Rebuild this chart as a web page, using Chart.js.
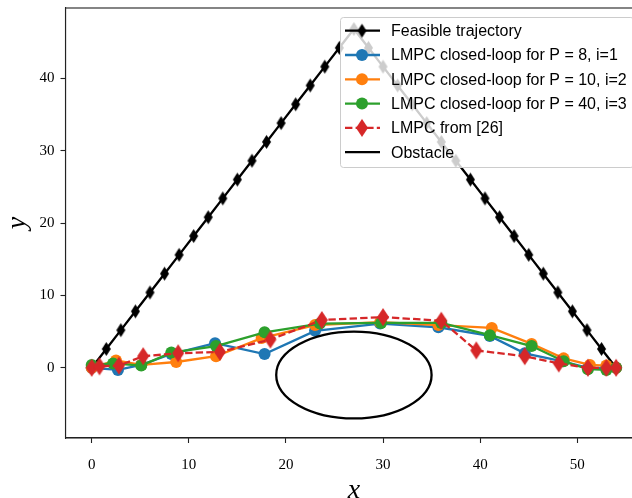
<!DOCTYPE html>
<html>
<head>
<meta charset="utf-8">
<script src="https://cdn.jsdelivr.net/npm/chart.js@4.4.0/dist/chart.umd.min.js"></script>
<style>
html, body { margin: 0; padding: 0; background: #fff; overflow: hidden; width: 632px; height: 498px; }
#wrap { position: relative; width: 660px; height: 498px; }
</style>
</head>
<body>
<div id="wrap"><canvas id="c" width="660" height="498"></canvas></div>
<script>
// feasible trajectory
var feasX = [0, 1.5, 3, 4.5, 6, 7.5, 9, 10.5, 12, 13.5, 15, 16.5, 18, 19.5, 21, 22.5, 24, 25.5, 27,
  28.5, 30, 31.5, 33, 34.5, 36, 37.5, 39, 40.5, 42, 43.5, 45, 46.5, 48, 49.5, 51, 52.5, 54]
var feasY = [0, 2.6, 5.2, 7.8, 10.4, 13, 15.6, 18.2, 20.8, 23.4, 26, 28.6, 31.2, 33.8, 36.4, 39, 41.6, 44.2, 46.8,
  44.2, 41.6, 39, 36.4, 33.8, 31.2, 28.6, 26, 23.4, 20.8, 18.2, 15.6, 13, 10.4, 7.8, 5.2, 2.6, 0]

// LMPC closed loop, P = 8, i=1
var p8X = [0, 2.7, 5.1, 8.2, 12.7, 17.8, 23.0, 29.7, 35.7, 41.0, 44.6, 48.5, 51.1, 53.0, 54.0]
var p8Y = [0, -0.3, 0.4, 1.9, 3.4, 1.9, 5.1, 6.1, 5.6, 4.4, 2.0, 0.9, 0.0, 0.0, 0.0]
// P = 10, i=2
var p10X = [0, 2.5, 5.1, 8.7, 12.8, 17.5, 23.0, 29.7, 35.7, 41.2, 45.3, 48.6, 51.3, 53.0, 54.0]
var p10Y = [0, 1.0, 0.4, 0.8, 1.6, 4.1, 5.9, 6.3, 5.9, 5.5, 3.3, 1.3, 0.4, 0.3, 0.0]
// P = 40, i=3
var p40X = [0, 2.2, 5.1, 8.2, 12.8, 17.8, 23.5, 29.8, 36.0, 41.0, 45.3, 48.6, 51.1, 53.0, 54.0]
var p40Y = [0.4, 0.6, 0.3, 2.1, 3.0, 4.9, 6.1, 6.2, 6.2, 4.5, 3.0, 0.9, -0.2, -0.3, 0.0]
// LMPC from [26]
var refX = [0, 0.8, 2.8, 5.3, 8.9, 13.2, 18.4, 23.7, 30.0, 36.0, 39.6, 44.6, 48.1, 51.1, 53.0, 54.0]
var refY = [0, 0.2, 0.3, 1.6, 2.0, 2.2, 3.9, 6.6, 7.0, 6.5, 2.4, 1.6, 0.6, 0.0, 0.0, 0.0]

// obstacle ellipse: center and half axes
var obsCenter = [27, -1]
var obsRadii = [8, 6]

var xTicks = [0, 10, 20, 30, 40, 50]
var yTicks = [0, 10, 20, 30, 40]
var xRange = [-2.7, 56.7]
var yRange = [-9.7, 49.7]

var labels = ["Feasible trajectory", "LMPC closed-loop for P = 8, i=1", "LMPC closed-loop for P = 10, i=2",
  "LMPC closed-loop for P = 40, i=3", "LMPC from [26]", "Obstacle"]

function pts(xs, ys) { return xs.map((v, i) => ({x: v, y: ys[i]})) }

function diamond(w, h, color) {
  var c = document.createElement("canvas")
  c.width = w + 2; c.height = h + 2
  var g = c.getContext("2d")
  g.fillStyle = color
  g.beginPath()
  g.moveTo(c.width / 2, 1); g.lineTo(w + 1, c.height / 2)
  g.lineTo(c.width / 2, h + 1); g.lineTo(1, c.height / 2)
  g.closePath(); g.fill()
  return c
}
var blackDia = diamond(9, 14, "#000")
var redDia = diamond(12, 18, "#d62728")

var serif = "'Liberation Serif', 'DejaVu Serif', serif"
var sans = "'Liberation Sans', Arial, sans-serif"

function lineSet(i, xs, ys, color, style, extra) {
  return Object.assign({
    label: labels[i], data: pts(xs, ys), borderColor: color, backgroundColor: color,
    borderWidth: 2.3, pointStyle: style, pointRadius: 6, pointBorderWidth: 0,
    pointHoverRadius: 6, tension: 0, order: 6 - i
  }, extra || {})
}

var datasets = [
  lineSet(0, feasX, feasY, "#000", blackDia),
  lineSet(1, p8X, p8Y, "#1f77b4", "circle"),
  lineSet(2, p10X, p10Y, "#ff7f0e", "circle"),
  lineSet(3, p40X, p40Y, "#2ca02c", "circle"),
  lineSet(4, refX, refY, "#d62728", redDia, {borderDash: [7.4, 3.2]})
]

var extras = {
  id: "extras",
  afterDatasetsDraw(chart) {
    var ctx = chart.ctx, a = chart.chartArea, xs = chart.scales.x, ys = chart.scales.y
    ctx.save()
    ctx.beginPath(); ctx.rect(a.left, a.top, a.right - a.left, a.bottom - a.top); ctx.clip()
    var cx = xs.getPixelForValue(obsCenter[0]), cy = ys.getPixelForValue(obsCenter[1])
    var rx = Math.abs(xs.getPixelForValue(obsCenter[0] + obsRadii[0]) - cx)
    var ry = Math.abs(ys.getPixelForValue(obsCenter[1] + obsRadii[1]) - cy)
    ctx.beginPath(); ctx.ellipse(cx, cy, rx, ry, 0, 0, Math.PI * 2)
    ctx.strokeStyle = "#000"; ctx.lineWidth = 2.3; ctx.stroke()
    ctx.restore()
    // top and right spines
    ctx.save()
    ctx.strokeStyle = "#222"; ctx.lineWidth = 1.1
    ctx.strokeRect(a.left, a.top, a.right - a.left, a.bottom - a.top)
    ctx.restore()
  },
  afterDraw(chart) {
    var ctx = chart.ctx, a = chart.chartArea
    var fx = 340, fy = 17, fw = a.right - 9 - fx, fh = 150
    ctx.save()
    ctx.beginPath()
    ctx.roundRect(fx + 0.5, fy + 0.5, fw, fh, 3)
    ctx.fillStyle = "rgba(255,255,255,0.8)"; ctx.fill()
    ctx.strokeStyle = "#cccccc"; ctx.lineWidth = 1; ctx.stroke()
    ctx.font = "16px " + sans
    ctx.textBaseline = "middle"
    var hx0 = 345, hx1 = 380, mx = 362
    for (var i = 0; i < labels.length; i++) {
      var y = 30.7 + 24.3 * i
      var ds = datasets[i]
      ctx.beginPath(); ctx.moveTo(hx0, y); ctx.lineTo(hx1, y)
      ctx.strokeStyle = ds ? ds.borderColor : "#000"; ctx.lineWidth = 2.3
      ctx.setLineDash(ds && ds.borderDash ? ds.borderDash : [])
      ctx.stroke(); ctx.setLineDash([])
      if (ds) {
        if (ds.pointStyle === "circle") {
          ctx.beginPath(); ctx.arc(mx, y, 6, 0, Math.PI * 2)
          ctx.fillStyle = ds.backgroundColor; ctx.fill()
        } else {
          var im = ds.pointStyle
          ctx.drawImage(im, mx - im.width / 2, y - im.height / 2)
        }
      }
      ctx.fillStyle = "#000"
      ctx.fillText(labels[i], 391, y + 1)
    }
    ctx.restore()
  }
}

new Chart("c", {
  type: "line",
  data: {datasets: datasets},
  options: {
    responsive: false, devicePixelRatio: 1, animation: false,
    layout: {padding: {top: 8, right: 17.7, left: 0, bottom: 0}},
    plugins: {legend: {display: false}, tooltip: {enabled: false}},
    scales: {
      x: {
        type: "linear", min: xRange[0], max: xRange[1],
        afterBuildTicks: s => { s.ticks = xTicks.map(v => ({value: v})) },
        afterFit: s => { s.height = 60; s.paddingLeft = 0; s.paddingRight = 0 },
        grid: {drawOnChartArea: false, tickLength: 5, color: "#222", tickWidth: 1.1},
        border: {color: "#222", width: 1.1},
        ticks: {color: "#000", font: {family: serif, size: 15}, padding: 13},
        title: {display: true, text: "x", color: "#000", padding: 0,
          font: {family: serif, size: 28, style: "italic", lineHeight: 0.55}}
      },
      y: {
        type: "linear", min: yRange[0], max: yRange[1],
        afterBuildTicks: s => { s.ticks = yTicks.map(v => ({value: v})) },
        afterFit: s => { s.width = 65.5; s.paddingTop = 0; s.paddingBottom = 0 },
        grid: {drawOnChartArea: false, tickLength: 5, color: "#222", tickWidth: 1.1},
        border: {color: "#222", width: 1.1},
        ticks: {color: "#000", font: {family: serif, size: 15}, padding: 6},
        title: {display: true, text: "y", color: "#000", padding: {top: 4, bottom: 0},
          font: {family: serif, size: 28, style: "italic", lineHeight: 1}}
      }
    }
  },
  plugins: [extras]
})
</script>
</body>
</html>
